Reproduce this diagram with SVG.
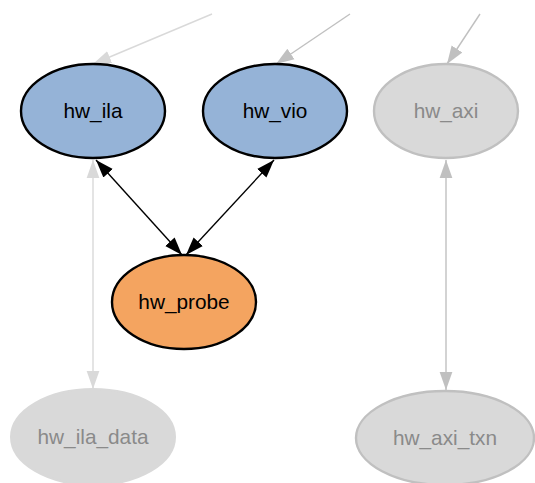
<svg xmlns="http://www.w3.org/2000/svg" width="535" height="483" viewBox="0 0 535 483">
<style>
.lbl{font-family:"Liberation Sans",Arial,sans-serif;font-size:20.8px;text-anchor:middle}
.dark{fill:#000}
.dim{fill:#8a8a8a}
.e{fill:none;stroke-width:1.4}
.blk{stroke:#000}
.g1{stroke:#c0c0c0}
.g2{stroke:#d9d9d9}
</style>
<defs>
<marker id="aB" markerUnits="userSpaceOnUse" markerWidth="18" markerHeight="14" viewBox="0 0 17 12" refX="17" refY="6" orient="auto-start-reverse"><path d="M0,0 L17,6 L0,12 Z" fill="#000"/></marker>
<marker id="aG1" markerUnits="userSpaceOnUse" markerWidth="18" markerHeight="14" viewBox="0 0 17 12" refX="17" refY="6" orient="auto-start-reverse"><path d="M0,0 L17,6 L0,12 Z" fill="#c0c0c0"/></marker>
<marker id="aG2" markerUnits="userSpaceOnUse" markerWidth="18" markerHeight="14" viewBox="0 0 17 12" refX="17" refY="6" orient="auto-start-reverse"><path d="M0,0 L17,6 L0,12 Z" fill="#d9d9d9"/></marker>
</defs>
<g id="connectors">
<path class="e g2" d="M212,14 L93,64" marker-end="url(#aG2)"/>
<path class="e g1" d="M350,14 L276,64" marker-end="url(#aG1)"/>
<path class="e g1" d="M480,14 L447,64" marker-end="url(#aG1)"/>
<path class="e blk" d="M96,160 L182,255" marker-start="url(#aB)" marker-end="url(#aB)"/>
<path class="e blk" d="M274,160 L186,255" marker-start="url(#aB)" marker-end="url(#aB)"/>
<path class="e g2" d="M93,160 L93,389" marker-start="url(#aG2)" marker-end="url(#aG2)"/>
<path class="e g1" d="M446,160 L446,390" marker-start="url(#aG1)" marker-end="url(#aG1)"/>
</g>
<g id="hw_ila"><ellipse cx="93" cy="111" rx="72" ry="47" fill="#95b3d7" stroke="#000" stroke-width="2.4"/><text class="lbl dark" x="93" y="118">hw_ila</text></g>
<g id="hw_vio"><ellipse cx="275" cy="111" rx="72" ry="47" fill="#95b3d7" stroke="#000" stroke-width="2.4"/><text class="lbl dark" x="275" y="118">hw_vio</text></g>
<g id="hw_axi"><ellipse cx="446" cy="111" rx="72" ry="47" fill="#d9d9d9" stroke="#c0c0c0" stroke-width="2.4"/><text class="lbl dim" x="446" y="118">hw_axi</text></g>
<g id="hw_probe"><ellipse cx="184" cy="302" rx="72" ry="47" fill="#f4a460" stroke="#000" stroke-width="2.4"/><text class="lbl dark" x="184" y="309">hw_probe</text></g>
<g id="hw_ila_data"><ellipse cx="93" cy="437" rx="82" ry="48" fill="#d9d9d9" stroke="#d9d9d9" stroke-width="2"/><text class="lbl dim" x="93" y="444">hw_ila_data</text></g>
<g id="hw_axi_txn"><ellipse cx="445" cy="438" rx="89" ry="47" fill="#d9d9d9" stroke="#c0c0c0" stroke-width="2.4"/><text class="lbl dim" x="445" y="445">hw_axi_txn</text></g>
</svg>
